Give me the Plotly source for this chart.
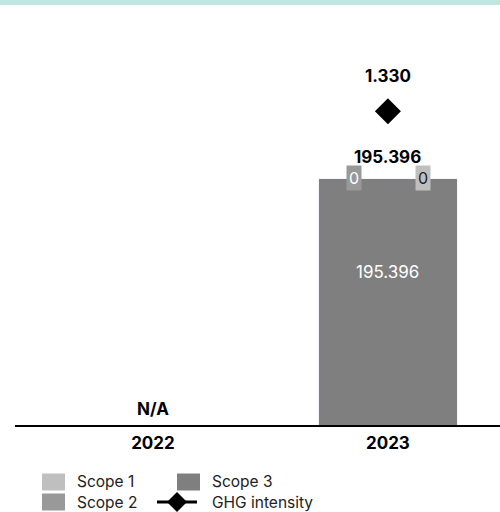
import plotly.graph_objects as go

# Emission data per reporting year (tCO2e); 2022 not available
years = ["2022", "2023"]
scope1 = [None, 0]
scope2 = [None, 0]
scope3 = [None, 195.396]
ghg_intensity = [None, 1.330]

series_names = ["Scope 1", "Scope 2", "Scope 3", "GHG intensity"]

C_S1 = "#bfbfbf"
C_S2 = "#999999"
C_S3 = "#7f7f7f"
FONT = "Inter"

W, H = 500, 512
M_L, M_R, M_T, M_B = 15, 0, 30, 87
PW, PH = W - M_L - M_R, H - M_T - M_B


def px(xp):
    """pixel column -> paper x"""
    return (xp - M_L) / PW


def py(yp):
    """pixel row -> paper y"""
    return (H - M_B - yp) / PH


def fmt(v, d=3):
    return f"{v:.{d}f}"


totals = [None if a is None else a + b + c for a, b, c in zip(scope1, scope2, scope3)]

fig = go.Figure()
for name, vals, col in [(series_names[0], scope1, C_S1),
                        (series_names[1], scope2, C_S2),
                        (series_names[2], scope3, C_S3)]:
    fig.add_trace(go.Bar(name=name, x=years, y=vals, marker_color=col, width=0.59))
fig.add_trace(go.Scatter(name=series_names[3], x=years, y=ghg_intensity, yaxis="y2",
                         mode="lines+markers",
                         marker=dict(symbol="diamond", size=20, color="black"),
                         line=dict(color="black", width=3)))

for i, yr in enumerate(years):
    if totals[i] is None:
        fig.add_annotation(x=i, y=0, xref="x", yref="y", text="<b>N/A</b>",
                           showarrow=False, yanchor="bottom", yshift=4,
                           font=dict(size=17, color="black"))
        continue
    # total above bar
    fig.add_annotation(x=i, y=totals[i], xref="x", yref="y",
                       text=f"<b>{fmt(totals[i])}</b>", showarrow=False,
                       yanchor="bottom", yshift=10, font=dict(size=17, color="black"))
    # scope 3 value inside the bar
    fig.add_annotation(x=i, y=scope3[i] * 0.62, xref="x", yref="y", text=fmt(scope3[i]),
                       showarrow=False, font=dict(size=17, color="white"))
    # zero-height scope labels at the top of the bar
    fig.add_annotation(x=i, y=totals[i], xref="x", yref="y", text=f"{scope2[i]:g}",
                       showarrow=False, xshift=-34, yshift=1, bgcolor=C_S2, borderpad=2,
                       font=dict(size=16, color="white"))
    fig.add_annotation(x=i, y=totals[i], xref="x", yref="y", text=f"{scope1[i]:g}",
                       showarrow=False, xshift=35, yshift=1, bgcolor=C_S1, borderpad=2,
                       font=dict(size=16, color="#222222"))
    # intensity value above the diamond
    fig.add_annotation(x=i, y=ghg_intensity[i], xref="x", yref="y2",
                       text=f"<b>{fmt(ghg_intensity[i])}</b>", showarrow=False,
                       yanchor="bottom", yshift=23, font=dict(size=17, color="black"))

# Legend drawn as two rows: (Scope 1, Scope 3) over (Scope 2, GHG intensity)
shapes = [dict(type="rect", xref="paper", yref="paper",
               x0=px(0), x1=px(W), y0=py(5), y1=py(0),
               fillcolor="#c0e6df", line_width=0, layer="below")]
ROW1, ROW2 = 482, 502
legend_items = [
    (series_names[0], C_S1, 42, ROW1),
    (series_names[2], C_S3, 177, ROW1),
    (series_names[1], C_S2, 42, ROW2),
]
for name, col, x0, yc in legend_items:
    shapes.append(dict(type="rect", xref="paper", yref="paper",
                       x0=px(x0), x1=px(x0 + 23), y0=py(yc + 8.5), y1=py(yc - 8.5),
                       fillcolor=col, line_width=0))
    fig.add_annotation(x=px(x0 + 33), y=py(yc), xref="paper", yref="paper", text=name,
                       showarrow=False, xanchor="left", yanchor="middle",
                       font=dict(size=15.5, color="#222222"))
# GHG intensity: line with diamond
gx, gy = 177, ROW2
shapes.append(dict(type="line", xref="paper", yref="paper",
                   x0=px(gx - 20), x1=px(gx + 20), y0=py(gy), y1=py(gy),
                   line=dict(color="black", width=3)))
shapes.append(dict(type="path", xref="paper", yref="paper",
                   path=(f"M {px(gx - 10)} {py(gy)} L {px(gx)} {py(gy - 10)} "
                         f"L {px(gx + 10)} {py(gy)} L {px(gx)} {py(gy + 10)} Z"),
                   fillcolor="black", line_width=0))
fig.add_annotation(x=px(210), y=py(gy), xref="paper", yref="paper", text=series_names[3],
                   showarrow=False, xanchor="left", yanchor="middle",
                   font=dict(size=15.5, color="#222222"))

fig.update_layout(
    width=W, height=H,
    margin=dict(l=M_L, r=M_R, t=M_T, b=M_B, autoexpand=False),
    plot_bgcolor="white", paper_bgcolor="white",
    barmode="stack",
    showlegend=False,
    font=dict(family=FONT, color="#333333"),
    xaxis=dict(type="category", range=[-0.587, 1.477], showline=True, linecolor="black",
               linewidth=1.5, showgrid=False, ticks="", ticklabelstandoff=2,
               tickfont=dict(size=17, color="black", family=FONT),
               tickprefix="<b>", ticksuffix="</b>"),
    yaxis=dict(range=[0, 313.7], showticklabels=False, showgrid=False,
               zeroline=False, showline=False),
    yaxis2=dict(range=[0, 1.674], overlaying="y", showticklabels=False, showgrid=False,
                zeroline=False, showline=False),
    shapes=shapes,
)

fig.write_html("out.html")
